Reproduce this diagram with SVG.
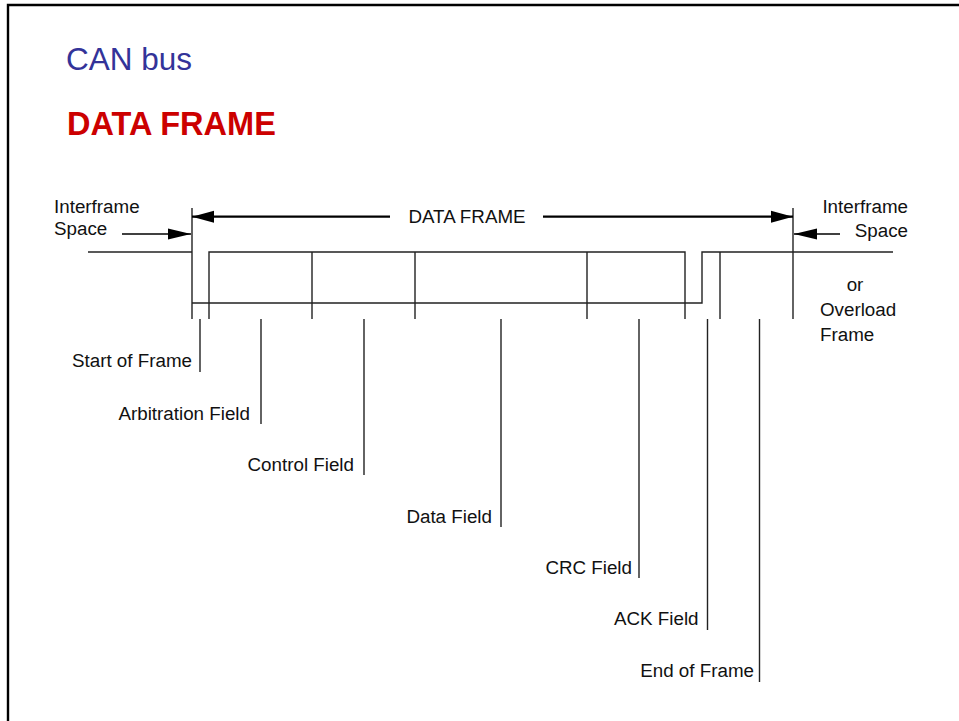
<svg xmlns="http://www.w3.org/2000/svg" width="959" height="721" viewBox="0 0 959 721">
<style>
.t{font-family:"Liberation Sans",Arial,sans-serif;font-size:18.8px;fill:#111}
.w{fill:none;stroke:#222;stroke-width:1.4}
.a{fill:none;stroke:#000;stroke-width:2.2}
.a2{fill:none;stroke:#000;stroke-width:1.4}
</style>
<defs>
<marker id="ah" markerUnits="userSpaceOnUse" markerWidth="22" markerHeight="14" refX="22" refY="7" orient="auto-start-reverse">
<path d="M0,1 L22,7 L0,13 z" fill="#000"/>
</marker>
<marker id="ah2" markerUnits="userSpaceOnUse" markerWidth="23" markerHeight="13" refX="23" refY="6.5" orient="auto-start-reverse">
<path d="M0,1 L23,6.5 L0,12 z" fill="#000"/>
</marker>
</defs>
<rect width="959" height="721" fill="#fff"/>
<path d="M8,721 V5 H959" fill="none" stroke="#000" stroke-width="2.4"/>
<g id="titles">
<text x="66" y="70" font-family="Liberation Sans,Arial,sans-serif" font-size="31.5" fill="#333399">CAN bus</text>
<text x="67" y="135" font-family="Liberation Sans,Arial,sans-serif" font-size="32.5" font-weight="bold" fill="#cc0000">DATA FRAME</text>
</g>
<g id="waveform">
<path class="w" d="M88,252 H192"/>
<path class="w" d="M192,208 V319"/>
<path class="w" d="M209,319 V252 H685 V319"/>
<path class="w" d="M192,303 H702 V252 H893"/>
<path class="w" d="M312,252 V319 M415,252 V319 M587,252 V319 M720,252 V319"/>
<path class="w" d="M793,208 V319"/>
</g>
<g id="connectors">
<path class="a" d="M390,216.7 H192" marker-end="url(#ah)"/>
<path class="a" d="M543,216.7 H793" marker-end="url(#ah)"/>
<path class="a2" d="M122,234 H191" marker-end="url(#ah2)"/>
<path class="a2" d="M840,234 H794" marker-end="url(#ah2)"/>
<path class="w" d="M200,319 V372"/>
<path class="w" d="M261,319 V424"/>
<path class="w" d="M364,319 V475"/>
<path class="w" d="M501,319 V527"/>
<path class="w" d="M639,319 V578"/>
<path class="w" d="M707.5,319 V630"/>
<path class="w" d="M759.5,319 V682"/>
</g>
<g id="data-frame-label"><text class="t" x="467" y="223" text-anchor="middle" font-size="18.3">DATA FRAME</text></g>
<g id="interframe-left"><text class="t" x="54" y="213">Interframe</text><text class="t" x="54" y="235">Space</text></g>
<g id="interframe-right"><text class="t" x="908" y="213" text-anchor="end">Interframe</text><text class="t" x="908" y="237" text-anchor="end">Space</text></g>
<g id="overload"><text class="t" x="855" y="291" text-anchor="middle">or</text><text class="t" x="820" y="316">Overload</text><text class="t" x="820" y="341">Frame</text></g>
<g id="sof"><text class="t" x="192" y="367" text-anchor="end">Start of Frame</text></g>
<g id="arb"><text class="t" x="250" y="420" text-anchor="end">Arbitration Field</text></g>
<g id="ctrl"><text class="t" x="354" y="471" text-anchor="end">Control Field</text></g>
<g id="data"><text class="t" x="492" y="523" text-anchor="end">Data Field</text></g>
<g id="crc"><text class="t" x="632" y="573.5" text-anchor="end">CRC Field</text></g>
<g id="ack"><text class="t" x="698.5" y="625" text-anchor="end">ACK Field</text></g>
<g id="eof"><text class="t" x="754" y="677" text-anchor="end">End of Frame</text></g>
</svg>
